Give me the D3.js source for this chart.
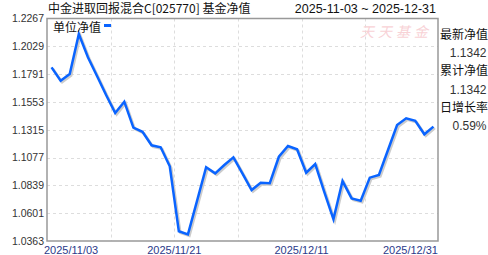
<!DOCTYPE html>
<html><head><meta charset="utf-8">
<script src="https://cdn.jsdelivr.net/npm/d3@7"></script>
<style>body{margin:0;background:#fff}svg{display:block}</style>
</head><body>
<script>
const dates = ["2025-11-03","2025-11-04","2025-11-05","2025-11-06","2025-11-07","2025-11-10","2025-11-11","2025-11-12","2025-11-13","2025-11-14","2025-11-17","2025-11-18","2025-11-19","2025-11-20","2025-11-21","2025-11-24","2025-11-25","2025-11-26","2025-11-27","2025-11-28","2025-12-01","2025-12-02","2025-12-03","2025-12-04","2025-12-05","2025-12-08","2025-12-09","2025-12-10","2025-12-11","2025-12-12","2025-12-15","2025-12-16","2025-12-17","2025-12-18","2025-12-19","2025-12-22","2025-12-23","2025-12-24","2025-12-25","2025-12-26","2025-12-29","2025-12-30","2025-12-31"];
const nav = [1.1849,1.1734,1.1792,1.2134,1.1935,1.1775,1.1612,1.1458,1.1555,1.1333,1.1298,1.1182,1.1165,1.1002,1.0446,1.0420,1.0707,1.0994,1.0942,1.1013,1.1079,1.0940,1.0799,1.0862,1.0857,1.1084,1.1176,1.1148,1.0947,1.1022,1.0782,1.0549,1.0876,1.0728,1.0708,1.0905,1.0928,1.1142,1.1356,1.1413,1.1392,1.1276,1.1342];
const yTicks = [1.0363,1.0601,1.0839,1.1077,1.1315,1.1553,1.1791,1.2029,1.2267];
const xLabels = ["2025/11/03","2025/11/21","2025/12/11","2025/12/31"];
const xLabelSlots = [0,14,28,43];
const xGridSlots = [7,14,21,28,35];
const title = "中金进取回报混合C[025770] 基金净值";
const rangeText = "2025-11-03 ~ 2025-12-31";
const infoLabels = ["最新净值","累计净值","日增长率"];
const infoValues = ["1.1342","1.1342","0.59%"];
const legendText = "单位净值";
const watermark = "天天基金";

const W=488,H=255, L=47, R=438, T=18.5, B=241;
const svg = d3.select("body").append("svg").attr("width",W).attr("height",H);
const font = "Arial, 'Liberation Sans', sans-serif";

const slot = d3.scaleLinear().domain([0,dates.length]).range([L,R]);
const x = i => slot(i+0.5);
const y = d3.scaleLinear().domain([yTicks[0],yTicks[yTicks.length-1]]).range([B,T]);

// grid
const g = svg.append("g");
g.selectAll("line.h").data(yTicks.slice(1,-1)).join("line")
  .attr("x1",L).attr("x2",R).attr("y1",d=>Math.round(y(d))+0.5).attr("y2",d=>Math.round(y(d))+0.5)
  .attr("stroke","#ddd").attr("stroke-dasharray","3,3");
g.selectAll("line.v").data(xGridSlots).join("line")
  .attr("x1",d=>Math.round(slot(d))+0.5).attr("x2",d=>Math.round(slot(d))+0.5).attr("y1",T).attr("y2",B)
  .attr("stroke","#ddd").attr("stroke-dasharray","3,3");

// watermark
svg.append("text").attr("x",396).attr("y",37).attr("text-anchor","middle")
  .attr("font-family","'Noto Sans CJK SC', sans-serif").attr("font-size",14)
  .attr("letter-spacing",4).attr("fill","#f8d2d6").attr("font-style","italic").text(watermark);

// y axis labels
svg.selectAll("text.yl").data(yTicks).join("text")
  .attr("x",44).attr("y",d=>y(d)).attr("dy","0.36em").attr("text-anchor","end")
  .attr("font-family",font).attr("font-size",10.5).attr("fill","#333").text(d=>d.toFixed(4));

// x labels
svg.selectAll("text.xl").data(xLabels).join("text")
  .attr("x",(d,i)=>slot(xLabelSlots[i]) + (i===0?-3:0))
  .attr("y",254)
  .attr("text-anchor",(d,i)=>i===0?"start":(i===xLabels.length-1?"end":"middle"))
  .attr("font-family",font).attr("font-size",11).attr("fill","#2b3a8a").text(d=>d);

// line
const line = d3.line().x((d,i)=>x(i)).y(d=>y(d));
svg.append("path").datum(nav).attr("d",line).attr("transform","translate(1.5,1.5)")
  .attr("fill","none").attr("stroke","#ccc").attr("stroke-width",2.5).attr("stroke-linejoin","miter");
svg.append("path").datum(nav).attr("d",line)
  .attr("fill","none").attr("stroke","#0a64ff").attr("stroke-width",2.5).attr("stroke-linejoin","miter");

// frame
svg.append("path").attr("d",`M${L},${T}H${R}V${B}H${L}Z`).attr("fill","none").attr("stroke","#999").attr("stroke-width",1.5);

// legend
svg.append("text").attr("x",53).attr("y",32).attr("font-family","'Noto Sans CJK SC', sans-serif")
  .attr("font-size",12).attr("fill","#111").text(legendText);
svg.append("rect").attr("x",104).attr("y",24).attr("width",7).attr("height",3).attr("fill","#0a64ff");

// title
svg.append("text").attr("x",48).attr("y",13).attr("font-family","'Noto Sans CJK SC', Arial, sans-serif")
  .attr("font-size",12).attr("fill","#111").text(title);
svg.append("text").attr("x",436).attr("y",13).attr("text-anchor","end").attr("font-family",font)
  .attr("font-size",12.5).attr("fill","#111").text(rangeText);

// info panel
const infoLabelY=[34.5,70.5,107.5], infoValY=[53,89.5,125.5];
svg.selectAll("text.il").data(infoLabels).join("text")
  .attr("x",440).attr("y",(d,i)=>infoLabelY[i]).attr("dy","0.36em")
  .attr("font-family","'Noto Sans CJK SC', sans-serif").attr("font-size",12).attr("fill","#111").text(d=>d);
svg.selectAll("text.iv").data(infoValues).join("text")
  .attr("x",486.5).attr("y",(d,i)=>infoValY[i]).attr("dy","0.36em").attr("text-anchor","end")
  .attr("font-family",font).attr("font-size",12).attr("fill","#333").text(d=>d);
</script>
</body></html>
